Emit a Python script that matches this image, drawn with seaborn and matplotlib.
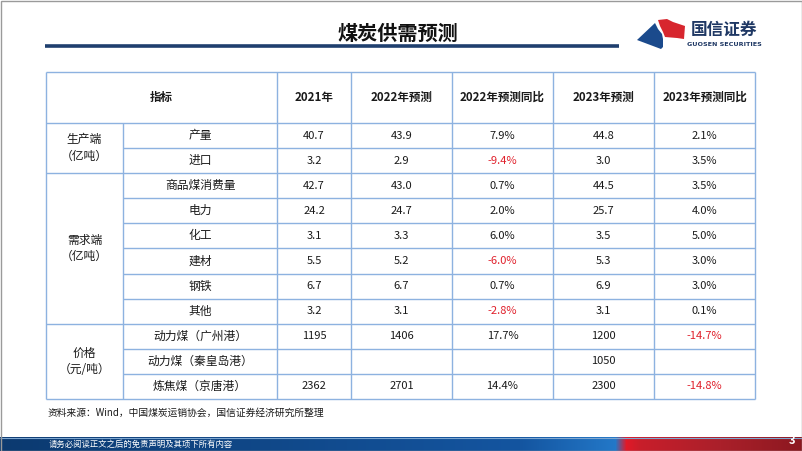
import numpy as np
import pandas as pd
import seaborn as sns
import matplotlib.pyplot as plt
from matplotlib.patches import Polygon, Rectangle

# Table content
columns = ['指标', '2021年', '2022年预测', '2022年预测同比', '2023年预测', '2023年预测同比']
groups = ['生产端\n（亿吨）', '需求端\n（亿吨）', '价格\n（元/吨）']
group_sizes = [2, 6, 3]
items = ['产量', '进口', '商品煤消费量', '电力', '化工', '建材', '钢铁', '其他',
         '动力煤（广州港）', '动力煤（秦皇岛港）', '炼焦煤（京唐港）']
v2021 = [40.7, 3.2, 42.7, 24.2, 3.1, 5.5, 6.7, 3.2, 1195, None, 2362]
v2022 = [43.9, 2.9, 43.0, 24.7, 3.3, 5.2, 6.7, 3.1, 1406, None, 2701]
yoy2022 = [7.9, -9.4, 0.7, 2.0, 6.0, -6.0, 0.7, -2.8, 17.7, None, 14.4]
v2023 = [44.8, 3.0, 44.5, 25.7, 3.5, 5.3, 6.9, 3.1, 1200, 1050, 2300]
yoy2023 = [2.1, 3.5, 3.5, 4.0, 5.0, 3.0, 3.0, 0.1, -14.7, None, -14.8]

df = pd.DataFrame({'item': items, 'v2021': v2021, 'v2022': v2022, 'yoy2022': yoy2022,
                   'v2023': v2023, 'yoy2023': yoy2023})
is_price = [False] * 8 + [True] * 3

sns.set_theme(style='white')
plt.rcParams['font.family'] = ['Noto Sans CJK SC', 'DejaVu Sans']

LINE = '#8DB2E0'
RED = '#E0202B'
TXT = '#1a1a1a'

# layout (pixels)
xs = [46, 123, 277, 351, 452, 553, 654, 755]
top, head_bot, bot = 72, 123, 399
n = len(items)
ys = np.linspace(head_bot, bot, n + 1)

fig = plt.figure(figsize=(8.02, 4.51), dpi=100)
ax = fig.add_axes([0, 0, 1, 1])
ax.set_xlim(0, 802)
ax.set_ylim(451, 0)
ax.axis('off')

# header
ax.text(398, 33, '煤炭供需预测', ha='center', va='center', fontsize=14.5,
        fontweight='bold', color='#111111')
ax.plot([45, 619], [46, 46], color='#1F3F6E', lw=2.6, solid_capstyle='butt')

# logo
ax.add_patch(Polygon([(637, 40), (655, 23), (658, 29), (662, 34), (663, 39), (663, 47),
                      (661, 49), (653, 46)], closed=True, color='#1B4A8C', lw=0))
ax.add_patch(Polygon([(658, 20), (667, 19), (673, 22), (685, 26), (684, 39), (677, 38),
                      (665, 37), (663, 32), (660, 26)], closed=True, color='#D7262E', lw=0))
ax.text(724, 30, '国信证券', ha='center', va='center', fontsize=12, color='#1F3864',
        fontweight='bold')
ax.text(724, 45, 'GUOSEN SECURITIES', ha='center', va='center', fontsize=4.6,
        color='#1F3864', fontweight='bold', family=['DejaVu Sans'])

# grid lines
lw = 1.0
ax.hlines([top, head_bot, bot], xs[0], xs[-1], color=LINE, lw=lw)
ax.hlines(ys[1:-1], xs[1], xs[-1], color=LINE, lw=lw)
bounds = np.cumsum(group_sizes)[:-1]
ax.hlines(ys[bounds], xs[0], xs[1], color=LINE, lw=lw)
ax.vlines([xs[0], xs[-1]] + xs[2:-1], top, bot, color=LINE, lw=lw)
ax.vlines(xs[1], head_bot, bot, color=LINE, lw=lw)

# header row
hy = (top + head_bot) / 2
ax.text((xs[0] + xs[2]) / 2, hy, columns[0], ha='center', va='center', fontsize=8.3,
        fontweight='bold', color=TXT)
for j, col in enumerate(columns[1:]):
    ax.text((xs[j + 2] + xs[j + 3]) / 2, hy, col, ha='center', va='center', fontsize=8.3,
            fontweight='bold', color=TXT)

# group labels
start = 0
for g, size in zip(groups, group_sizes):
    yc = (ys[start] + ys[start + size]) / 2
    ax.text((xs[0] + xs[1]) / 2, yc, g, ha='center', va='center', fontsize=8.5,
            color=TXT, linespacing=1.35)
    start += size


def fmt(v, price, pct):
    if v is None or pd.isna(v):
        return ''
    if pct:
        return f'{v:.1f}%'
    return f'{v:.0f}' if price else f'{v:.1f}'


for i, row in df.iterrows():
    yc = (ys[i] + ys[i + 1]) / 2
    ax.text((xs[1] + xs[2]) / 2, yc, row['item'], ha='center', va='center', fontsize=8.5,
            color=TXT)
    for j, key in enumerate(['v2021', 'v2022', 'yoy2022', 'v2023', 'yoy2023']):
        v = row[key]
        pct = key.startswith('yoy')
        s = fmt(v, is_price[i], pct)
        c = RED if (pct and s and v < 0) else TXT
        ax.text((xs[j + 2] + xs[j + 3]) / 2, yc, s, ha='center', va='center',
                fontsize=8, color=c)

# source
ax.text(48, 413, '资料来源：Wind，中国煤炭运销协会，国信证券经济研究所整理', ha='left',
        va='center', fontsize=7, color=TXT)

# footer band
stops_x = [0, 520, 615, 626, 640, 720, 802]
stops_c = np.array([[12, 58, 112], [20, 85, 160], [35, 120, 200], [225, 25, 40],
                    [200, 30, 42], [170, 32, 42], [140, 24, 32]]) / 255
grad = np.stack([np.interp(np.arange(802), stops_x, stops_c[:, k]) for k in range(3)],
                axis=-1)[None, :, :]
ax.imshow(grad, extent=[0, 802, 451, 437.5], aspect='auto', zorder=1)
ax.hlines(437.5, 0, 802, color='#7FA7D0', lw=0.8, zorder=2)
ax.text(49, 444.5, '请务必阅读正文之后的免责声明及其项下所有内容', ha='left', va='center',
        fontsize=6, color='white', zorder=3)
ax.text(792, 440, '3', ha='center', va='center', fontsize=8, color='white',
        fontweight='bold', zorder=3)
ax.set_xlim(0, 802)
ax.set_ylim(451, 0)

# slide border
ax.add_patch(Rectangle((0.5, 0.5), 801, 450, fill=False, ec='#9a9a9a', lw=1, zorder=4))

fig.savefig('out.png', dpi=100)
